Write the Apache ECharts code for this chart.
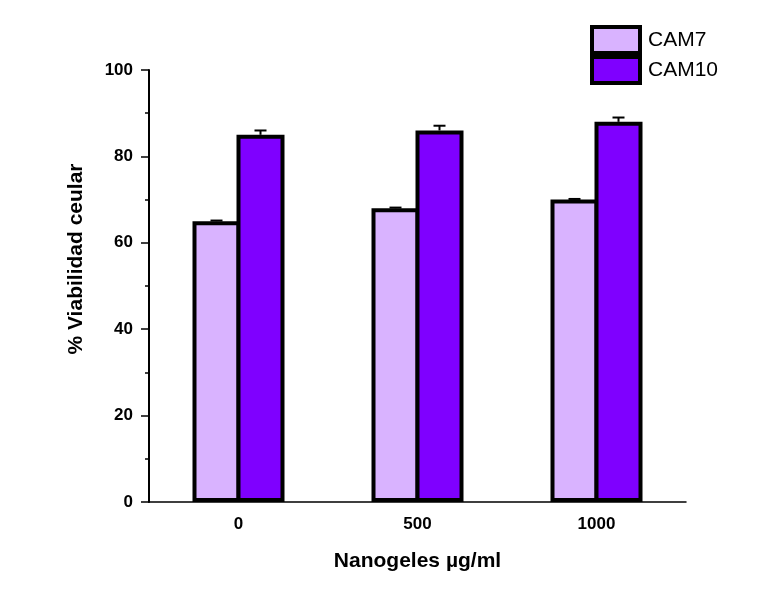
<!DOCTYPE html>
<html>
<head>
<meta charset="utf-8">
<script src="https://cdn.jsdelivr.net/npm/echarts@6/dist/echarts.min.js"></script>
<style>
  html, body { margin: 0; padding: 0; background: #ffffff; }
  #chart { width: 778px; height: 594px; }
</style>
</head>
<body>
<div id="chart"></div>
<script>
// Cell viability per nanogel concentration
const categories = ['0', '500', '1000'];
const cam7 = [65, 68, 70];
const cam7Err = [0.15, 0.15, 0.15];
const cam10 = [85, 86, 88];
const cam10Err = [1.0, 1.1, 1.0];
const seriesNames = ['CAM7', 'CAM10'];

const FONT = '"Liberation Sans", Arial, sans-serif';
const BAR_W = 48;
const BORDER = 4;
const colors = ['#D9B3FF', '#7F00FF'];

// Error whisker, shifted onto its own bar within the category band
function errorBar(sign) {
  return function (params, api) {
    const idx = api.value(0);
    const val = api.value(1);
    const err = api.value(2);
    const base = api.coord([idx, val]);
    const top = api.coord([idx, val + err]);
    const x = base[0] + sign * (BAR_W - BORDER) / 2;
    const cap = 6;
    const style = { stroke: '#000', lineWidth: 2, fill: null };
    return {
      type: 'group',
      children: [
        { type: 'line', shape: { x1: x, y1: base[1], x2: x, y2: top[1] }, style: style },
        { type: 'line', shape: { x1: x - cap, y1: top[1], x2: x + cap, y2: top[1] }, style: style }
      ]
    };
  };
}

const chart = echarts.init(document.getElementById('chart'), null, { renderer: 'canvas' });
chart.setOption({
  backgroundColor: '#ffffff',
  animation: false,
  textStyle: { fontFamily: FONT },
  grid: { left: 149, right: 92, top: 70, bottom: 92, containLabel: false },
  legend: {
    data: seriesNames,
    orient: 'vertical',
    left: 590,
    top: 25,
    padding: 0,
    icon: 'rect',
    itemWidth: 48,
    itemHeight: 26,
    itemGap: 0,
    itemStyle: { borderColor: '#000', borderWidth: 4 },
    textStyle: { fontFamily: FONT, fontSize: 21, color: '#000', lineHeight: 26, padding: [0, 0, 0, 3] }
  },
  xAxis: {
    type: 'category',
    data: categories,
    boundaryGap: true,
    name: 'Nanogeles µg/ml',
    nameLocation: 'middle',
    nameGap: 49,
    nameTextStyle: { fontFamily: FONT, fontSize: 21, fontWeight: 'bold', color: '#000' },
    axisLine: { lineStyle: { color: '#000', width: 1.5 } },
    axisTick: { alignWithLabel: true, inside: false, length: 8, lineStyle: { color: '#000', width: 1.5 } },
    axisLabel: { fontFamily: FONT, fontSize: 17, fontWeight: 'bold', color: '#000', margin: 14 },
    splitLine: { show: false }
  },
  yAxis: {
    type: 'value',
    min: 0,
    max: 100,
    interval: 20,
    name: '% Viabilidad ceular',
    nameLocation: 'middle',
    nameGap: 62,
    nameRotate: 90,
    nameTextStyle: { fontFamily: FONT, fontSize: 21, fontWeight: 'bold', color: '#000', padding: [0, 0, 0, 54] },
    axisLine: { show: true, lineStyle: { color: '#000', width: 2 } },
    axisTick: { show: true, length: 8, lineStyle: { color: '#000', width: 1.5 } },
    minorTick: { show: true, splitNumber: 2, length: 4, lineStyle: { color: '#000', width: 1.5 } },
    axisLabel: { fontFamily: FONT, fontSize: 17, fontWeight: 'bold', color: '#000', margin: 16 },
    splitLine: { show: false }
  },
  series: [
    {
      name: 'err7',
      type: 'custom',
      renderItem: errorBar(-1),
      data: cam7.map((v, i) => [i, v, cam7Err[i]]),
      encode: { x: 0, y: 1 },
      z: 1,
      silent: true
    },
    {
      name: 'err10',
      type: 'custom',
      renderItem: errorBar(1),
      data: cam10.map((v, i) => [i, v, cam10Err[i]]),
      encode: { x: 0, y: 1 },
      z: 1,
      silent: true
    },
    {
      name: seriesNames[0],
      type: 'bar',
      data: cam7,
      barWidth: BAR_W,
      barGap: -(BORDER / BAR_W * 100) + '%',
      itemStyle: { color: colors[0], borderColor: '#000', borderWidth: BORDER },
      z: 2
    },
    {
      name: seriesNames[1],
      type: 'bar',
      data: cam10,
      barWidth: BAR_W,
      barGap: -(BORDER / BAR_W * 100) + '%',
      itemStyle: { color: colors[1], borderColor: '#000', borderWidth: BORDER },
      z: 2
    }
  ]
});
</script>
</body>
</html>
